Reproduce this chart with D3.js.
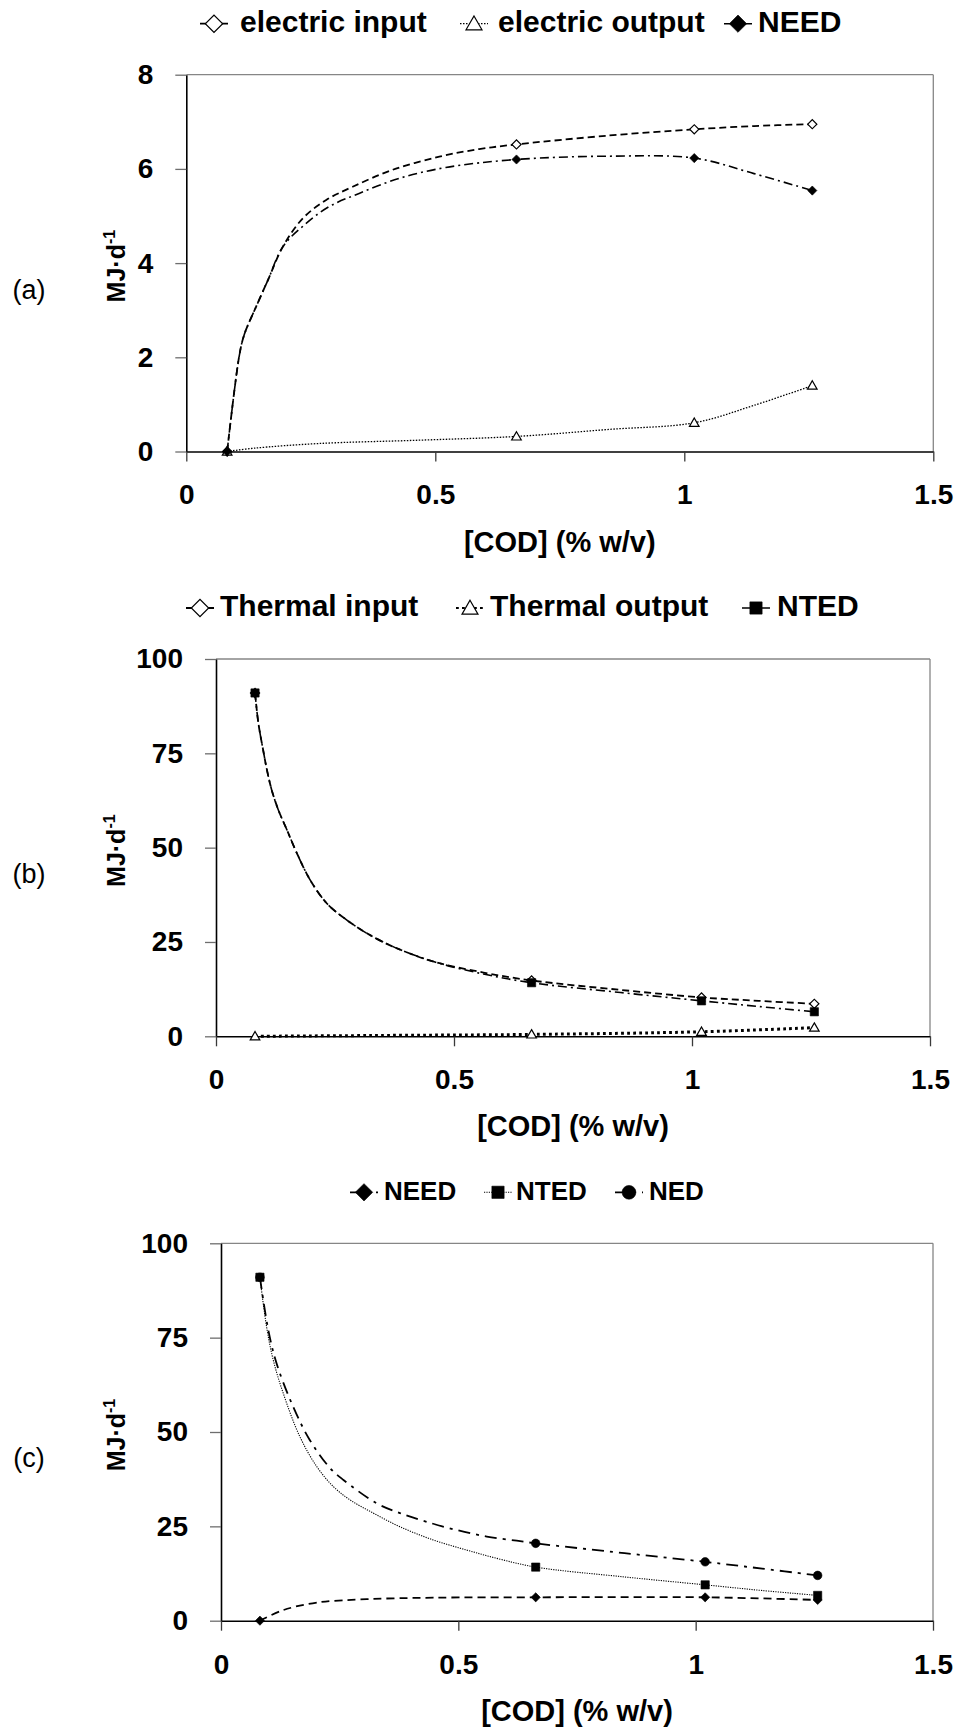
<!DOCTYPE html>
<html>
<head>
<meta charset="utf-8">
<script src="https://cdn.jsdelivr.net/npm/d3@7"></script>
<style>
  body { margin: 0; background: #fff; }
  svg { display: block; }
</style>
</head>
<body>
<div id="chart"></div>
<script>
// sampled COD concentrations (% w/v)
const cod = [0.082, 0.663, 1.02, 1.257];
const xTicks = [0, 0.5, 1, 1.5];
const yTicksA = [0, 2, 4, 6, 8];
const yTicksB = [0, 25, 50, 75, 100];

// (a) electric balance, MJ/d
const elecInput = [0, 6.52, 6.84, 6.95];
const elecOutput = [0, 0.32, 0.61, 1.40];
const needA = [0, 6.20, 6.23, 5.54];

// (b) thermal balance, MJ/d
const thermalInput = [91, 14.8, 10.3, 8.6];
const thermalOutput = [0, 0.5, 1.2, 2.3];
const ntedB = [91, 14.2, 9.4, 6.5];

// (c) net balances, MJ/d
const needC = [0, 6.2, 6.2, 5.5];
const ntedC = [91, 14.2, 9.5, 6.7];
const nedC = [91, 20.5, 15.6, 12.0];

// fitted curves, [COD, MJ/d]
const elecInputCurve = [[0.082,0],[0.106,2.01],[0.116,2.47],[0.140,3.07],[0.164,3.64],[0.194,4.35],[0.234,4.95],[0.281,5.34],[0.334,5.62],[0.414,5.98],[0.508,6.26],[0.588,6.42],[0.663,6.52],[0.85,6.71],[1.02,6.84],[1.14,6.91],[1.257,6.95]];
const needACurve = [[0.082,0],[0.106,2.01],[0.116,2.47],[0.140,3.07],[0.164,3.64],[0.194,4.35],[0.237,4.81],[0.287,5.20],[0.347,5.48],[0.428,5.80],[0.521,6.03],[0.663,6.20],[0.85,6.27],[1.02,6.23],[1.14,5.90],[1.257,5.54]];
const elecOutputCurve = [[0.082,0],[0.136,0.07],[0.267,0.17],[0.468,0.24],[0.663,0.32],[0.85,0.47],[1.02,0.61],[1.14,0.98],[1.257,1.40]];

const thermalInputCurve = [[0.082,91],[0.089,83.0],[0.099,75.9],[0.107,70.6],[0.117,65.3],[0.131,60.0],[0.149,54.7],[0.170,48.5],[0.198,41.4],[0.233,35.2],[0.275,30.8],[0.317,27.3],[0.373,23.7],[0.457,19.8],[0.562,16.9],[0.663,14.8],[0.85,12.3],[1.02,10.3],[1.14,9.4],[1.257,8.6]];
const ntedBCurve = [[0.082,91],[0.089,83.0],[0.099,75.9],[0.107,70.6],[0.117,65.3],[0.131,60.0],[0.149,54.7],[0.170,48.5],[0.198,41.4],[0.233,35.2],[0.275,30.8],[0.317,27.3],[0.373,23.7],[0.457,19.8],[0.562,16.5],[0.663,14.2],[0.85,11.6],[1.02,9.4],[1.14,7.9],[1.257,6.5]];
const thermalOutputCurve = [[0.082,0],[0.373,0.25],[0.663,0.5],[1.02,1.2],[1.257,2.3]];

const needCCurve = [[0.082,0],[0.131,2.8],[0.202,4.8],[0.307,5.7],[0.447,6.1],[0.663,6.2],[0.85,6.25],[1.02,6.2],[1.14,5.9],[1.257,5.5]];
const ntedCCurve = [[0.082,91],[0.096,77.9],[0.110,69.1],[0.131,60.3],[0.166,48.8],[0.202,40.8],[0.237,35.5],[0.272,32.0],[0.321,28.5],[0.377,24.9],[0.447,21.4],[0.518,18.7],[0.588,16.3],[0.663,14.2],[0.85,11.6],[1.02,9.5],[1.14,8.0],[1.257,6.7]];
const nedCCurve = [[0.082,91],[0.0997,77.0],[0.117,68.2],[0.152,56.7],[0.187,47.9],[0.230,40.4],[0.258,37.3],[0.328,31.1],[0.377,28.5],[0.433,26.2],[0.497,24.0],[0.560,22.3],[0.623,21.2],[0.663,20.5],[0.85,17.9],[1.02,15.6],[1.14,13.8],[1.257,12.0]];

const font = '"Liberation Sans", Arial, sans-serif';

// z is the stacking order of the markers (higher on top)
const panels = [
  {
    label: '(a)', left: 186.3, right: 933.3, top: 74.7, bottom: 451.5,
    yMax: 8, yTicks: yTicksA, legendSize: 30,
    series: [
      {name: 'electric input', values: elecInput, curve: elecInputCurve, marker: 'diamondOpen', dash: '7,4', width: 1.8, lx: 214, tx: 240, z: 0},
      {name: 'electric output', values: elecOutput, curve: elecOutputCurve, marker: 'triangleOpen', dash: '1.5,1.5', width: 1.3, lx: 474, tx: 498, z: 1},
      {name: 'NEED', values: needA, curve: needACurve, marker: 'diamond', dash: '9,4,2,4', width: 1.6, lx: 738, tx: 758, z: 2}
    ]
  },
  {
    label: '(b)', left: 216, right: 930, top: 659, bottom: 1036.3,
    yMax: 100, yTicks: yTicksB, legendSize: 30,
    series: [
      {name: 'Thermal input', values: thermalInput, curve: thermalInputCurve, marker: 'diamondOpen', dash: '7,4', width: 1.8, lx: 200, tx: 220, z: 0},
      {name: 'Thermal output', values: thermalOutput, curve: thermalOutputCurve, marker: 'triangleOpen', dash: '2.8,3.2', width: 3, lx: 470, tx: 490, z: 1},
      {name: 'NTED', values: ntedB, curve: ntedBCurve, marker: 'square', dash: '9,4,2,4', width: 1.6, lx: 756, tx: 777, z: 2}
    ]
  },
  {
    label: '(c)', left: 221, right: 933, top: 1243.3, bottom: 1620.7,
    yMax: 100, yTicks: yTicksB, legendSize: 26,
    series: [
      {name: 'NEED', values: needC, curve: needCCurve, marker: 'diamond', dash: '8,5', width: 1.8, lx: 364, tx: 384, z: 0},
      {name: 'NTED', values: ntedC, curve: ntedCCurve, marker: 'square', dash: '1.2,1.2', width: 1.1, lx: 498, tx: 516, z: 2},
      {name: 'NED', values: nedC, curve: nedCCurve, marker: 'circle', dash: '12,6,3,6', width: 1.8, lx: 629, tx: 649, z: 1}
    ]
  }
];

const svg = d3.select('#chart')
  .append('svg')
    .attr('width', 959)
    .attr('height', 1730)
    .style('font-family', font);

svg.append('rect').attr('width', 959).attr('height', 1730).attr('fill', '#fff');

panels.forEach(function(p) { makePanel(svg, p); });

function drawMarker(sel, type, x, y, big) {
  let base = type.replace('Open', '');
  let sizes = big
    ? {diamond: 150, square: 150, triangle: 110, circle: 150}
    : {diamond: 42, square: 68, triangle: 40, circle: 58};
  let shape = {diamond: d3.symbolSquare, square: d3.symbolSquare, triangle: d3.symbolTriangle, circle: d3.symbolCircle}[base];
  let open = type.endsWith('Open');
  let dy = base === 'triangle' ? (big ? 1.5 : 0.8) : 0;
  sel.append('path')
    .attr('d', d3.symbol().type(shape).size(sizes[base])())
    .attr('transform', `translate(${x},${y + dy})` + (base === 'diamond' ? ' rotate(45)' : ''))
    .attr('fill', open ? '#fff' : '#000')
    .attr('stroke', '#000')
    .attr('stroke-width', open ? 1.2 : 0.6);
}

function makePanel(svg, p) {
  let x = d3.scaleLinear().domain([0, 1.5]).range([p.left, p.right]);
  let y = d3.scaleLinear().domain([0, p.yMax]).range([p.bottom, p.top]);
  let g = svg.append('g');

  // frame: top and right in grey
  g.append('line')
    .attr('x1', p.left).attr('x2', p.right).attr('y1', p.top).attr('y2', p.top)
    .attr('stroke', '#868686').attr('stroke-width', 1.3);
  g.append('line')
    .attr('x1', p.right).attr('x2', p.right).attr('y1', p.top).attr('y2', p.bottom)
    .attr('stroke', '#868686').attr('stroke-width', 1.3);

  // y axis
  let yAxis = g.append('g')
    .attr('transform', `translate(${p.left},0)`)
    .call(d3.axisLeft(y).tickValues(p.yTicks).tickSize(11).tickSizeOuter(0).tickPadding(22).tickFormat(function(d) { return d; }));
  yAxis.select('.domain').attr('stroke', '#000').attr('stroke-width', 1.6);
  yAxis.selectAll('.tick line').attr('stroke', '#6e6e6e').attr('stroke-width', 1.3);
  yAxis.selectAll('.tick text')
    .style('font-family', font).style('font-size', '28px').style('font-weight', 'bold').attr('fill', '#000');

  // x axis
  let xAxis = g.append('g')
    .attr('transform', `translate(0,${p.bottom})`)
    .call(d3.axisBottom(x).tickValues(xTicks).tickSize(10).tickSizeOuter(0).tickPadding(23).tickFormat(function(d) { return d; }));
  xAxis.select('.domain').attr('stroke', '#000').attr('stroke-width', 1.6);
  xAxis.selectAll('.tick line').attr('stroke', '#3a3a3a').attr('stroke-width', 1.3);
  xAxis.selectAll('.tick text')
    .style('font-family', font).style('font-size', '28px').style('font-weight', 'bold').attr('fill', '#000');

  // titles
  let mid = (p.top + p.bottom) / 2;
  g.append('text')
    .attr('x', (p.left + p.right) / 2)
    .attr('y', p.bottom + 100)
    .attr('text-anchor', 'middle')
    .style('font-size', '29px').style('font-weight', 'bold')
    .text('[COD] (% w/v)');

  let yt = g.append('text')
    .attr('transform', `translate(125,${mid + 3}) rotate(-90)`)
    .attr('text-anchor', 'middle')
    .style('font-size', '25px').style('font-weight', 'bold');
  yt.append('tspan').text('MJ·d');
  yt.append('tspan').attr('dy', -10).style('font-size', '16px').text('-1');

  g.append('text')
    .attr('x', 29)
    .attr('y', mid + 26)
    .attr('dy', '0.35em')
    .attr('text-anchor', 'middle')
    .style('font-size', '27px')
    .text(p.label);

  // curves
  let lineGen = d3.line()
    .x(function(d) { return x(d[0]); })
    .y(function(d) { return y(d[1]); })
    .curve(d3.curveCatmullRom.alpha(0.5));

  p.series.forEach(function(s) {
    g.append('path')
      .attr('d', lineGen(s.curve))
      .attr('fill', 'none')
      .attr('stroke', '#000')
      .attr('stroke-width', s.width)
      .attr('stroke-dasharray', s.dash);
  });

  // markers at the measured points
  p.series.slice().sort(function(a, b) { return a.z - b.z; }).forEach(function(s) {
    let mg = g.append('g');
    s.values.forEach(function(v, i) {
      drawMarker(mg, s.marker, x(cod[i]), y(v), false);
    });
  });

  // legend
  let ly = p.top - 51;
  p.series.forEach(function(s) {
    g.append('line')
      .attr('x1', s.lx - 14).attr('x2', s.lx + 14)
      .attr('y1', ly).attr('y2', ly)
      .attr('stroke', '#000')
      .attr('stroke-width', Math.min(s.width, 2))
      .attr('stroke-dasharray', s.dash);
    drawMarker(g, s.marker, s.lx, ly, true);
    g.append('text')
      .attr('x', s.tx)
      .attr('y', ly + p.legendSize * 0.28)
      .style('font-size', p.legendSize + 'px').style('font-weight', 'bold')
      .text(s.name);
  });
}
</script>
</body>
</html>
